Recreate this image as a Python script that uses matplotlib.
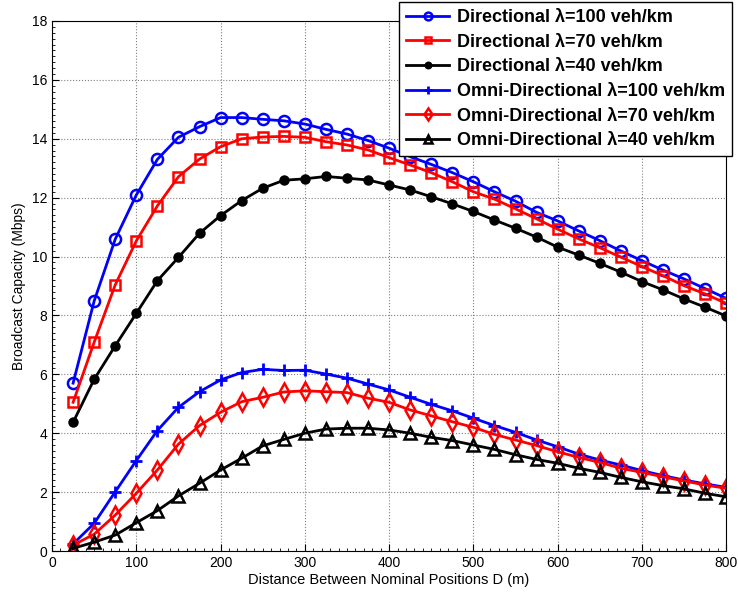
import matplotlib
matplotlib.use('Agg')
import matplotlib.pyplot as plt
from matplotlib.ticker import MultipleLocator

plt.rcParams['font.family'] = ['Liberation Sans', 'DejaVu Sans']

# distance D (m)
d = [25, 50, 75, 100, 125, 150, 175, 200, 225, 250, 275, 300, 325, 350, 375, 400,
     425, 450, 475, 500, 525, 550, 575, 600, 625, 650, 675, 700, 725, 750, 775, 800]

# directional antennas
dir_100 = [5.70, 8.49, 10.59, 12.09, 13.30, 14.05, 14.41, 14.72, 14.72, 14.66, 14.61, 14.50,
           14.32, 14.16, 13.94, 13.68, 13.39, 13.13, 12.85, 12.54, 12.20, 11.88, 11.50, 11.21,
           10.87, 10.54, 10.19, 9.86, 9.54, 9.24, 8.91, 8.58]
dir_70 = [5.05, 7.09, 9.04, 10.53, 11.72, 12.71, 13.31, 13.73, 14.00, 14.06, 14.08, 14.05,
          13.90, 13.79, 13.62, 13.36, 13.11, 12.85, 12.54, 12.20, 11.95, 11.62, 11.28, 10.93,
          10.60, 10.30, 9.98, 9.66, 9.35, 9.01, 8.73, 8.41]
dir_40 = [4.37, 5.83, 6.97, 8.07, 9.18, 9.97, 10.79, 11.39, 11.90, 12.32, 12.59, 12.64,
          12.72, 12.66, 12.60, 12.43, 12.26, 12.03, 11.79, 11.53, 11.24, 10.96, 10.66, 10.32,
          10.05, 9.77, 9.47, 9.15, 8.87, 8.56, 8.28, 7.98]

# omni-directional antennas
omni_100 = [0.24, 0.94, 2.01, 3.07, 4.09, 4.88, 5.41, 5.81, 6.06, 6.17, 6.13, 6.14,
            6.01, 5.87, 5.67, 5.47, 5.22, 4.98, 4.76, 4.51, 4.26, 4.03, 3.77, 3.54,
            3.29, 3.09, 2.92, 2.73, 2.56, 2.41, 2.28, 2.16]
omni_70 = [0.20, 0.57, 1.22, 1.96, 2.75, 3.63, 4.26, 4.71, 5.07, 5.22, 5.40, 5.44,
           5.41, 5.38, 5.19, 5.05, 4.79, 4.59, 4.39, 4.20, 3.96, 3.77, 3.58, 3.37,
           3.18, 3.01, 2.81, 2.67, 2.52, 2.38, 2.24, 2.13]
omni_40 = [0.09, 0.30, 0.54, 0.96, 1.37, 1.87, 2.30, 2.75, 3.15, 3.57, 3.79, 4.00,
           4.14, 4.17, 4.17, 4.11, 4.00, 3.86, 3.75, 3.60, 3.45, 3.27, 3.11, 2.98,
           2.81, 2.67, 2.50, 2.35, 2.22, 2.11, 1.96, 1.84]

fig = plt.figure(figsize=(7.38, 5.96), dpi=100)
ax = fig.add_axes([0.0705, 0.0755, 0.9135, 0.8893])

ax.plot(d, dir_100, '-o', color='blue', lw=2, ms=8, mfc='none', mew=1.8,
        label='Directional \u03bb=100 veh/km')
ax.plot(d, dir_70, '-s', color='red', lw=2, ms=7, mfc='none', mew=1.8,
        label='Directional \u03bb=70 veh/km')
ax.plot(d, dir_40, '-o', color='black', lw=2, ms=6, mfc='black', mew=1.5,
        label='Directional \u03bb=40 veh/km')
ax.plot(d, omni_100, '-+', color='blue', lw=2, ms=9, mew=2,
        label='Omni-Directional \u03bb=100 veh/km')
ax.plot(d, omni_70, '-d', color='red', lw=2, ms=9, mfc='none', mew=1.8,
        label='Omni-Directional \u03bb=70 veh/km')
ax.plot(d, omni_40, '-^', color='black', lw=2, ms=8, mfc='none', mew=1.8,
        label='Omni-Directional \u03bb=40 veh/km')

ax.set_xlim(0, 800)
ax.set_ylim(0, 18)
ax.set_xticks(range(0, 801, 100))
ax.set_yticks(range(0, 19, 2))
ax.xaxis.set_minor_locator(MultipleLocator(10))
ax.yaxis.set_minor_locator(MultipleLocator(0.2))
ax.tick_params(which='major', direction='in', labelsize=10, length=5)
ax.tick_params(which='minor', direction='in', length=2, width=0.6)
ax.grid(True, which='major', linestyle=':', color='gray', lw=0.8)
ax.set_xlabel('Distance Between Nominal Positions D (m)', fontsize=10.5, labelpad=2)
ax.set_ylabel('Broadcast Capacity (Mbps)', fontsize=10, labelpad=4)

leg = ax.legend(loc='upper right', bbox_to_anchor=(732 / 738, 1 - 2 / 596),
                bbox_transform=fig.transFigure, fancybox=False, framealpha=1,
                edgecolor='black', prop={'weight': 'bold', 'size': 13},
                handlelength=2.4, handletextpad=0.4, borderaxespad=0,
                labelspacing=0.42, markerscale=0.7)
leg.get_frame().set_linewidth(1)

fig.savefig('out.png', dpi=100)
